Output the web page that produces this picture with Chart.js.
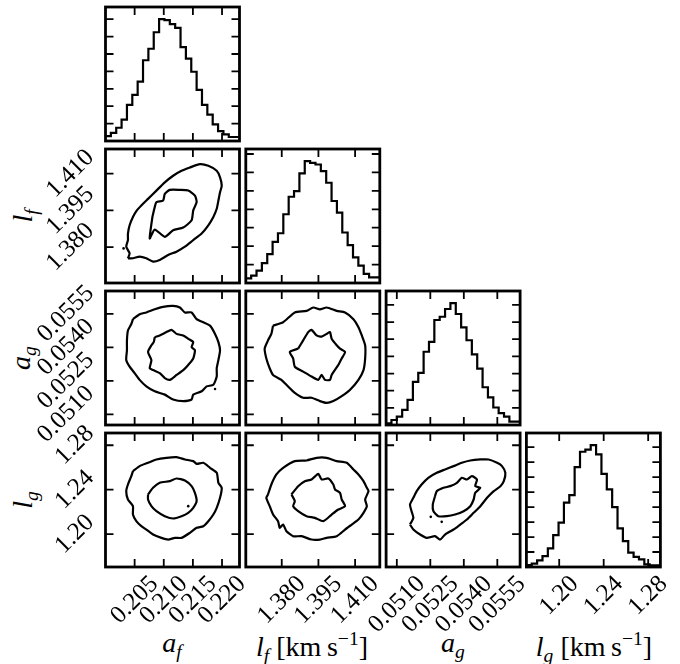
<!DOCTYPE html>
<html>
<head>
<meta charset="utf-8">
<script src="https://cdn.jsdelivr.net/npm/chart.js@4/dist/chart.umd.min.js"></script>
<style>
  html, body { margin: 0; background: #fff; }
  #fig { position: relative; width: 680px; height: 664px; overflow: hidden; }
  #fig canvas { position: absolute; left: 0; top: 0; }
  .lbl {
    position: absolute; font-family: "Liberation Serif", "DejaVu Serif", serif;
    font-size: 28px; line-height: 1; white-space: nowrap; color: #000;
    transform: translate(-50%, -50%);
  }
  .lbl.rot { transform: translate(-50%, -50%) rotate(-90deg); }
  .lbl sub { font-size: 0.7em; vertical-align: -0.3em; }
  .lbl sup { font-size: 0.7em; vertical-align: 0.55em; }
</style>
</head>
<body>
<div id="fig">
  <div class="lbl" style="left:172px;top:645px"><i>a</i><sub><i>f</i></sub></div>
  <div class="lbl" style="left:312px;top:647px"><i>l</i><sub><i>f</i></sub> [km&thinsp;s<sup>−1</sup>]</div>
  <div class="lbl" style="left:453px;top:645px"><i>a</i><sub><i>g</i></sub></div>
  <div class="lbl" style="left:594px;top:647px"><i>l</i><sub><i>g</i></sub> [km&thinsp;s<sup>−1</sup>]</div>
  <div class="lbl rot" style="left:25px;top:216px"><i>l</i><sub><i>f</i></sub></div>
  <div class="lbl rot" style="left:23px;top:358px"><i>a</i><sub><i>g</i></sub></div>
  <div class="lbl rot" style="left:25px;top:500px"><i>l</i><sub><i>g</i></sub></div>
</div>
<script>
  "use strict";

  // ---- data ----

  const AF_TICKS = [0.205, 0.210, 0.215, 0.220];
  const LF_TICKS = [1.380, 1.395, 1.410];
  const AG_TICKS = [0.0510, 0.0525, 0.0540, 0.0555];
  const LG_TICKS = [1.20, 1.24, 1.28];

  // marginal histograms, 25 bins each (arbitrary count units)
  const AF_COUNTS = [0.19, 0.28, 0.47, 0.76, 1.23, 2.08, 2.65, 3.41, 4.64, 5.30, 6.25, 7.00, 6.95,
    6.72, 6.50, 5.40, 4.73, 3.98, 2.94, 2.08, 1.52, 0.95, 0.57, 0.38, 0.23];
  const LF_COUNTS = [0.07, 0.25, 0.40, 0.67, 1.08, 1.57, 2.23, 2.70, 3.73, 4.68, 4.99, 5.95, 6.61,
    6.52, 6.43, 6.07, 5.44, 4.45, 3.82, 2.74, 2.05, 1.39, 0.94, 0.49, 0.31];
  const AG_COUNTS = [0.04, 0.10, 0.29, 0.49, 0.88, 1.47, 2.51, 3.04, 4.27, 4.84, 6.12, 6.31, 6.76,
    7.10, 6.47, 5.69, 4.94, 4.12, 3.29, 2.20, 1.61, 1.02, 0.69, 0.49, 0.20];
  const LG_COUNTS = [0.07, 0.13, 0.22, 0.44, 0.73, 1.24, 2.13, 2.96, 4.29, 4.80, 6.67, 7.69, 7.84,
    8.13, 7.51, 6.22, 5.18, 4.00, 2.58, 1.73, 0.96, 0.67, 0.51, 0.18, 0.11];

  // contour levels, [x, y] in data units
  const AF_LF_OUTER = [[0.20385,1.37541],[0.20414,1.37744],[0.20356,1.38014],[0.20385,1.38284],[0.20385,1.38554],
    [0.20414,1.38891],[0.20471,1.39229],[0.20529,1.39472],[0.20615,1.39701],[0.20730,1.39971],[0.20874,1.40309],
    [0.21018,1.40646],[0.21161,1.40916],[0.21305,1.41119],[0.21449,1.41254],[0.21621,1.41389],[0.21765,1.41321],
    [0.21909,1.41119],[0.21966,1.40849],[0.21995,1.40511],[0.21966,1.40241],[0.21938,1.39904],[0.21909,1.39566],
    [0.21851,1.39229],[0.21765,1.38891],[0.21650,1.38554],[0.21506,1.38284],[0.21363,1.38014],[0.21219,1.37811],
    [0.21075,1.37676],[0.20931,1.37474],[0.20816,1.37406],[0.20701,1.37541],[0.20586,1.37609],[0.20471,1.37541]];
  const AF_LF_INNER = [[0.20805,1.39229],[0.20759,1.38351],[0.20845,1.38716],[0.21018,1.38419],[0.21161,1.38689],
    [0.21334,1.38797],[0.21478,1.39094],[0.21506,1.39499],[0.21564,1.39836],[0.21535,1.40106],[0.21420,1.40309],
    [0.21276,1.40336],[0.21104,1.40336],[0.21018,1.40174],[0.20989,1.39904],[0.20874,1.39836],[0.20845,1.39634]];
  const AF_LF_DOTS = [[0.20310,1.37946]];

  const AF_AG_OUTER = [[0.20471,0.05526],[0.20586,0.05548],[0.20701,0.05556],[0.20845,0.05570],[0.20989,0.05581],
    [0.21161,0.05585],[0.21276,0.05578],[0.21363,0.05556],[0.21478,0.05556],[0.21564,0.05526],[0.21679,0.05512],
    [0.21794,0.05497],[0.21880,0.05460],[0.21938,0.05423],[0.21966,0.05387],[0.21938,0.05343],[0.21909,0.05306],
    [0.21909,0.05269],[0.21851,0.05232],[0.21736,0.05225],[0.21650,0.05203],[0.21506,0.05188],[0.21478,0.05166],
    [0.21334,0.05159],[0.21161,0.05166],[0.21018,0.05188],[0.20845,0.05203],[0.20701,0.05225],[0.20586,0.05254],
    [0.20500,0.05284],[0.20414,0.05313],[0.20356,0.05343],[0.20368,0.05387],[0.20368,0.05431],[0.20385,0.05475],
    [0.20443,0.05504]];
  const AF_AG_INNER = [[0.20845,0.05445],[0.20931,0.05453],[0.21046,0.05468],[0.21133,0.05478],[0.21219,0.05460],
    [0.21334,0.05453],[0.21420,0.05438],[0.21506,0.05423],[0.21478,0.05401],[0.21535,0.05387],[0.21506,0.05350],
    [0.21420,0.05321],[0.21334,0.05298],[0.21219,0.05276],[0.21104,0.05254],[0.21018,0.05262],[0.20931,0.05284],
    [0.20816,0.05298],[0.20759,0.05306],[0.20788,0.05343],[0.20730,0.05379],[0.20788,0.05409],[0.20828,0.05423]];
  const AF_AG_DOTS = [[0.21880,0.05213]];

  const LF_AG_OUTER = [[1.37644,0.05497],[1.38055,0.05512],[1.38534,0.05556],[1.39014,0.05563],[1.39288,0.05578],
    [1.39562,0.05570],[1.39836,0.05578],[1.40247,0.05563],[1.40589,0.05556],[1.40932,0.05526],[1.41137,0.05490],
    [1.41274,0.05453],[1.41411,0.05409],[1.41411,0.05350],[1.41343,0.05298],[1.41137,0.05254],[1.40795,0.05210],
    [1.40452,0.05181],[1.40110,0.05159],[1.39836,0.05151],[1.39562,0.05159],[1.39219,0.05174],[1.38877,0.05174],
    [1.38534,0.05196],[1.38192,0.05232],[1.37986,0.05254],[1.37644,0.05276],[1.37507,0.05306],[1.37370,0.05350],
    [1.37301,0.05394],[1.37438,0.05431],[1.37575,0.05460]];
  const LF_AG_INNER = [[1.38671,0.05394],[1.38877,0.05431],[1.39082,0.05468],[1.39219,0.05478],[1.39425,0.05453],
    [1.39630,0.05448],[1.39836,0.05460],[1.39973,0.05468],[1.40041,0.05438],[1.40247,0.05409],[1.40384,0.05394],
    [1.40589,0.05379],[1.40452,0.05350],[1.40315,0.05321],[1.40041,0.05276],[1.39973,0.05254],[1.39767,0.05254],
    [1.39630,0.05276],[1.39493,0.05254],[1.39219,0.05269],[1.38877,0.05291],[1.38534,0.05313],[1.38466,0.05350],
    [1.38329,0.05379]];

  const AF_LG_OUTER = [[0.20471,1.2567],[0.20586,1.2612],[0.20730,1.2642],[0.20874,1.2672],[0.21046,1.2687],
    [0.21219,1.2693],[0.21363,1.2672],[0.21506,1.2657],[0.21564,1.2633],[0.21679,1.2642],[0.21794,1.2597],
    [0.21909,1.2552],[0.21938,1.2462],[0.21995,1.2417],[0.21966,1.2327],[0.21909,1.2237],[0.21851,1.2177],
    [0.21765,1.2117],[0.21679,1.2072],[0.21564,1.2057],[0.21449,1.2012],[0.21305,1.1967],[0.21190,1.1967],
    [0.21075,1.1952],[0.20960,1.1967],[0.20816,1.1997],[0.20701,1.2042],[0.20615,1.2072],[0.20529,1.2117],
    [0.20471,1.2177],[0.20471,1.2252],[0.20385,1.2312],[0.20356,1.2387],[0.20385,1.2447],[0.20443,1.2522]];
  const AF_LG_INNER = [[0.20730,1.2357],[0.20816,1.2417],[0.20931,1.2462],[0.21104,1.2477],[0.21219,1.2501],
    [0.21363,1.2483],[0.21478,1.2432],[0.21535,1.2372],[0.21564,1.2297],[0.21506,1.2237],[0.21420,1.2192],
    [0.21305,1.2162],[0.21161,1.2141],[0.21018,1.2162],[0.20874,1.2207],[0.20788,1.2252],[0.20730,1.2312]];
  const AF_LG_DOTS = [[0.21420,1.2252]];

  const LF_LG_OUTER = [[1.37438,1.2357],[1.37575,1.2447],[1.37781,1.2537],[1.38055,1.2597],[1.38534,1.2657],
    [1.39014,1.2663],[1.39425,1.2687],[1.39836,1.2687],[1.40247,1.2657],[1.40658,1.2642],[1.40932,1.2582],
    [1.41137,1.2537],[1.41343,1.2477],[1.41480,1.2417],[1.41548,1.2387],[1.41411,1.2312],[1.41480,1.2252],
    [1.41343,1.2192],[1.41137,1.2132],[1.40863,1.2087],[1.40589,1.2042],[1.40247,1.1982],[1.39836,1.1967],
    [1.39562,1.1952],[1.39219,1.1952],[1.38808,1.1982],[1.38466,1.1982],[1.38192,1.2027],[1.38055,1.2087],
    [1.37918,1.2057],[1.37849,1.2117],[1.37644,1.2177],[1.37507,1.2252],[1.37370,1.2327]];
  const LF_LG_INNER = [[1.38397,1.2357],[1.38671,1.2432],[1.38945,1.2477],[1.39219,1.2492],[1.39493,1.2543],
    [1.39630,1.2492],[1.39904,1.2501],[1.40110,1.2447],[1.40178,1.2402],[1.40384,1.2372],[1.40452,1.2312],
    [1.40589,1.2252],[1.40315,1.2222],[1.40041,1.2177],[1.39699,1.2117],[1.39356,1.2147],[1.39014,1.2162],
    [1.38671,1.2207],[1.38466,1.2252],[1.38534,1.2297]];

  const AG_LG_OUTER = [[0.05159,1.2087],[0.05174,1.2147],[0.05166,1.2207],[0.05159,1.2267],[0.05174,1.2327],
    [0.05189,1.2387],[0.05211,1.2447],[0.05241,1.2507],[0.05279,1.2552],[0.05316,1.2582],[0.05354,1.2612],
    [0.05391,1.2642],[0.05429,1.2663],[0.05474,1.2672],[0.05511,1.2672],[0.05549,1.2642],[0.05571,1.2612],
    [0.05586,1.2552],[0.05579,1.2477],[0.05564,1.2432],[0.05534,1.2387],[0.05504,1.2327],[0.05474,1.2252],
    [0.05444,1.2192],[0.05414,1.2132],[0.05384,1.2087],[0.05354,1.2042],[0.05316,1.1997],[0.05294,1.1952],
    [0.05271,1.1982],[0.05234,1.1967],[0.05204,1.1997],[0.05174,1.2042]];
  const AG_LG_INNER = [[0.05271,1.2342],[0.05279,1.2387],[0.05309,1.2417],[0.05339,1.2432],[0.05369,1.2462],
    [0.05391,1.2507],[0.05414,1.2492],[0.05436,1.2522],[0.05459,1.2492],[0.05451,1.2432],[0.05474,1.2417],
    [0.05451,1.2372],[0.05444,1.2312],[0.05429,1.2252],[0.05399,1.2207],[0.05361,1.2177],[0.05324,1.2162],
    [0.05286,1.2162],[0.05264,1.2207],[0.05261,1.2267]];
  const AG_LG_DOTS = [[0.05252,1.2156],[0.05301,1.2111]];

  // ---- layout ----

  const W = 680, H = 664;
  const COL_X = [105.5, 245.8, 386.1, 526.4];
  const ROW_Y = [7, 149, 291, 433];
  const PANEL = 134;
  const TICK_LEN = 8;
  const LABEL_SIZE = 25;
  const LABEL_FONT = `${LABEL_SIZE}px "Liberation Serif", "DejaVu Serif", serif`;
  const PAD_X = 7;   // gap between frame and the rotated x tick labels
  const PAD_Y = 9;

  const AXES = {
    af: {min: 0.2000, max: 0.2230, ticks: AF_TICKS, digits: 3},
    lf: {min: 1.3653, max: 1.4201, ticks: LF_TICKS, digits: 3},
    ag: {min: 0.05052, max: 0.05652, ticks: AG_TICKS, digits: 4},
    lg: {min: 1.1705, max: 1.2910, ticks: LG_TICKS, digits: 2},
  };
  const ORDER = ["af", "lf", "ag", "lg"];

  const fig = document.getElementById("fig");

  // rotated labels placed like matplotlib: the rotated box is centred on the tick
  function drawTickLabels(chart, isX, digits) {
    const {ctx, chartArea: a} = chart;
    const scale = isX ? chart.scales.x : chart.scales.y;
    ctx.save();
    ctx.font = LABEL_FONT;
    ctx.fillStyle = "#000";
    ctx.textAlign = "center";
    ctx.textBaseline = "middle";
    scale.ticks.forEach((t) => {
      const text = t.value.toFixed(digits);
      const w = ctx.measureText(text).width;
      const half = (w + 0.7 * LABEL_SIZE) * Math.SQRT1_2 / 2;
      const p = scale.getPixelForValue(t.value);
      const cx = isX ? p : a.left - PAD_Y - half;
      const cy = isX ? a.bottom + PAD_X + half : p;
      ctx.save();
      ctx.translate(cx, cy);
      ctx.rotate(-Math.PI / 4);
      ctx.fillText(text, 0, 0);
      ctx.restore();
    });
    ctx.restore();
  }

  // inward ticks on all four sides, the heavy frame and the tick labels
  const framePlugin = {
    id: "frame",
    afterDraw(chart, args, opts) {
      const {ctx, chartArea: a, scales} = chart;
      ctx.save();
      ctx.strokeStyle = "#000";
      ctx.lineWidth = 1.8;
      ctx.beginPath();
      scales.x.ticks.forEach((t) => {
        const px = scales.x.getPixelForValue(t.value);
        ctx.moveTo(px, a.top);
        ctx.lineTo(px, a.top + TICK_LEN);
        ctx.moveTo(px, a.bottom);
        ctx.lineTo(px, a.bottom - TICK_LEN);
      });
      scales.y.ticks.forEach((t) => {
        const py = scales.y.getPixelForValue(t.value);
        ctx.moveTo(a.left, py);
        ctx.lineTo(a.left + TICK_LEN, py);
        ctx.moveTo(a.right, py);
        ctx.lineTo(a.right - TICK_LEN, py);
      });
      ctx.stroke();
      ctx.lineWidth = 2.8;
      ctx.strokeRect(a.left, a.top, a.right - a.left, a.bottom - a.top);
      ctx.restore();
      if (opts.xDigits != null) drawTickLabels(chart, true, opts.xDigits);
      if (opts.yDigits != null) drawTickLabels(chart, false, opts.yDigits);
    },
  };

  function scaleOptions(axis, isX) {
    return {
      type: "linear",
      min: axis.min,
      max: axis.max,
      grid: {display: false},
      border: {display: false},
      ticks: {display: false},
      afterBuildTicks: (s) => {
        s.ticks = axis.ticks.map((value) => ({value}));
      },
      afterFit: (s) => {
        if (isX) {
          s.height = 0;
        } else {
          s.width = 0;
        }
      },
    };
  }

  function addPanel(row, col, yAxis, datasets) {
    const canvas = document.createElement("canvas");
    canvas.width = W;
    canvas.height = H;
    fig.appendChild(canvas);
    const left = COL_X[col];
    const top = ROW_Y[row];
    const xAxis = AXES[ORDER[col]];
    new Chart(canvas, {
      type: "scatter",
      data: {datasets},
      options: {
        responsive: false,
        animation: false,
        devicePixelRatio: 1,
        layout: {padding: {left, top, right: W - left - PANEL, bottom: H - top - PANEL}},
        plugins: {
          legend: {display: false},
          tooltip: {enabled: false},
          frame: {
            xDigits: row === 3 ? xAxis.digits : null,
            yDigits: col === 0 && row > 0 ? yAxis.digits : null,
          },
        },
        scales: {
          x: scaleOptions(xAxis, true),
          y: scaleOptions(yAxis, false),
        },
      },
      plugins: [framePlugin],
    });
  }

  function histogram(key, counts) {
    const axis = AXES[key];
    const width = (axis.max - axis.min) / counts.length;
    const pts = counts.map((c, i) => ({x: axis.min + i * width, y: c}));
    pts.push({x: axis.max, y: counts[counts.length - 1]});
    const top = Math.max(...counts) * 1.1;
    const yTicks = [];
    for (let v = 1; v < top; v++) yTicks.push(v);
    const i = ORDER.indexOf(key);
    addPanel(i, i, {min: 0, max: top, ticks: yTicks, digits: 0}, [{
      data: pts,
      showLine: true,
      stepped: "after",
      pointRadius: 0,
      borderWidth: 2.2,
      borderColor: "#000",
      fill: false,
    }]);
  }

  function contourSets(outer, inner, dots) {
    const line = (arr) => ({
      data: arr.concat([arr[0]]).map(([x, y]) => ({x, y})),
      showLine: true,
      pointRadius: 0,
      borderWidth: 2.2,
      borderColor: "#000",
      tension: 0.2,
      fill: false,
    });
    const sets = [line(outer), line(inner)];
    if (dots) {
      sets.push({
        data: dots.map(([x, y]) => ({x, y})),
        pointRadius: 1.3,
        borderWidth: 0,
        backgroundColor: "#000",
      });
    }
    return sets;
  }

  histogram("af", AF_COUNTS);
  histogram("lf", LF_COUNTS);
  histogram("ag", AG_COUNTS);
  histogram("lg", LG_COUNTS);

  addPanel(1, 0, AXES.lf, contourSets(AF_LF_OUTER, AF_LF_INNER, AF_LF_DOTS));
  addPanel(2, 0, AXES.ag, contourSets(AF_AG_OUTER, AF_AG_INNER, AF_AG_DOTS));
  addPanel(2, 1, AXES.ag, contourSets(LF_AG_OUTER, LF_AG_INNER));
  addPanel(3, 0, AXES.lg, contourSets(AF_LG_OUTER, AF_LG_INNER, AF_LG_DOTS));
  addPanel(3, 1, AXES.lg, contourSets(LF_LG_OUTER, LF_LG_INNER));
  addPanel(3, 2, AXES.lg, contourSets(AG_LG_OUTER, AG_LG_INNER, AG_LG_DOTS));
</script>
</body>
</html>
